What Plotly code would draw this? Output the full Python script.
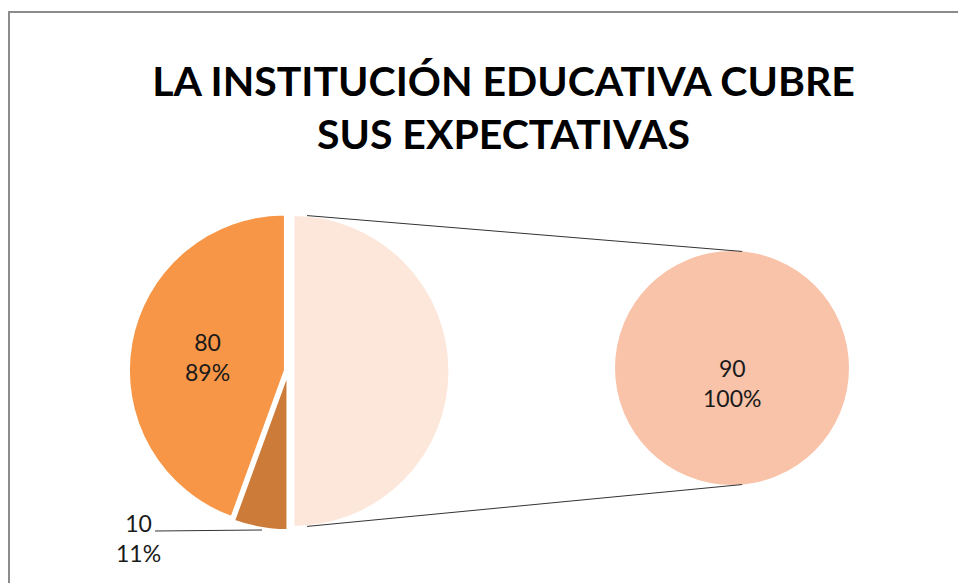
import math
import plotly.graph_objects as go

# ---------------- data ----------------
main_labels = ["Otro", "No", "Sí"]
main_values = [90, 10, 80]          # "Otro" groups the values shown in the secondary pie
second_labels = ["Otro"]
second_values = [90]
title_text = "LA INSTITUCIÓN EDUCATIVA CUBRE<br>SUS EXPECTATIVAS"

# ---------------- layout constants (pixels) ----------------
W, H = 958, 583
C1 = (288.0, 371.0); R1 = 156.0
C2 = (732.0, 368.0); R2 = 117.0
pulls = [0.035, 0.02, 0.02]
max_pull = max(pulls)

total_detail = main_values[1] + main_values[2]
def pct(v):
    return f"{round(100 * v / total_detail)}%"

main_text = ["", "", f"{main_values[2]}<br>{pct(main_values[2])}"]

def domain(cx, cy, r, pull=0.0):
    half = r * (1 + pull)
    x0, x1 = (cx - half) / W, (cx + half) / W
    yb = H - cy
    y0, y1 = (yb - half) / H, (yb + half) / H
    return dict(x=[x0, x1], y=[y0, y1])

label_font = dict(family="Lato", size=23, color="#1a1a1a")

fig = go.Figure()
fig.add_trace(go.Pie(
    labels=main_labels, values=main_values, sort=False, direction="clockwise",
    rotation=0, pull=pulls, domain=domain(*C1, R1, max_pull),
    marker=dict(colors=["#FDE6DA", "#CC7B38", "#F79646"], line=dict(color="white", width=2)),
    text=main_text, textinfo="text", textposition="inside",
    insidetextorientation="horizontal",
    textfont=label_font,
    showlegend=False, hoverinfo="label+value",
))
fig.add_trace(go.Pie(
    labels=second_labels, values=second_values, sort=False,
    domain=domain(*C2, R2, 0.0),
    marker=dict(colors=["#F8C3A8"], line=dict(color="white", width=0)),
    textinfo="none",
    showlegend=False, hoverinfo="label+value",
))

def px(x, y):
    return x / W, 1 - y / H

shapes = []
# connector lines between the pink slice and the secondary pie
pink_cx = C1[0] + pulls[0] * R1
for ang in (5, 175):
    a = math.radians(ang)
    sx, sy = pink_cx + R1 * math.sin(a), C1[1] - R1 * math.cos(a)
    ex, ey = C2[0] + R2 * math.sin(a), C2[1] - R2 * math.cos(a)
    x0, y0 = px(sx, sy); x1, y1 = px(ex, ey)
    shapes.append(dict(type="line", xref="paper", yref="paper", x0=x0, y0=y0, x1=x1, y1=y1,
                       line=dict(color="#333333", width=1)))
# leader line for small slice label
lx0, ly0 = px(155, 531); lx1, ly1 = px(262, 530)
shapes.append(dict(type="line", xref="paper", yref="paper", x0=lx0, y0=ly0, x1=lx1, y1=ly1,
                   line=dict(color="#333333", width=1)))
# chart frame
fx0, fy0 = px(9, 12); fx1, fy1 = px(W + 5, H + 5)
shapes.append(dict(type="rect", xref="paper", yref="paper", x0=fx0, y0=fy1, x1=fx1, y1=fy0,
                   line=dict(color="#8c8c8c", width=2), layer="above"))

ax, ay = px(138, 537.5)
bx, by = px(C2[0], C2[1] + 15)
fig.update_layout(
    width=W, height=H,
    margin=dict(l=0, r=0, t=0, b=0),
    paper_bgcolor="white",
    title=dict(text=f"<b>{title_text}</b>", x=503.5 / W, xanchor="center",
               y=1 - 96 / H, yanchor="middle",
               font=dict(family="Lato", size=41, color="#000000")),
    shapes=shapes,
    annotations=[
        dict(text=f"{main_values[1]}<br>{pct(main_values[1])}", x=ax, y=ay,
             xref="paper", yref="paper", showarrow=False, align="center",
             xanchor="center", yanchor="middle", font=label_font),
        dict(text=f"{second_values[0]}<br>{pct(second_values[0])}", x=bx, y=by,
             xref="paper", yref="paper", showarrow=False, align="center",
             xanchor="center", yanchor="middle", font=label_font),
    ],
)
fig.write_html("out.html", config={"displayModeBar": False},
               post_script="document.body.style.margin='0';document.body.style.overflow='hidden';")
